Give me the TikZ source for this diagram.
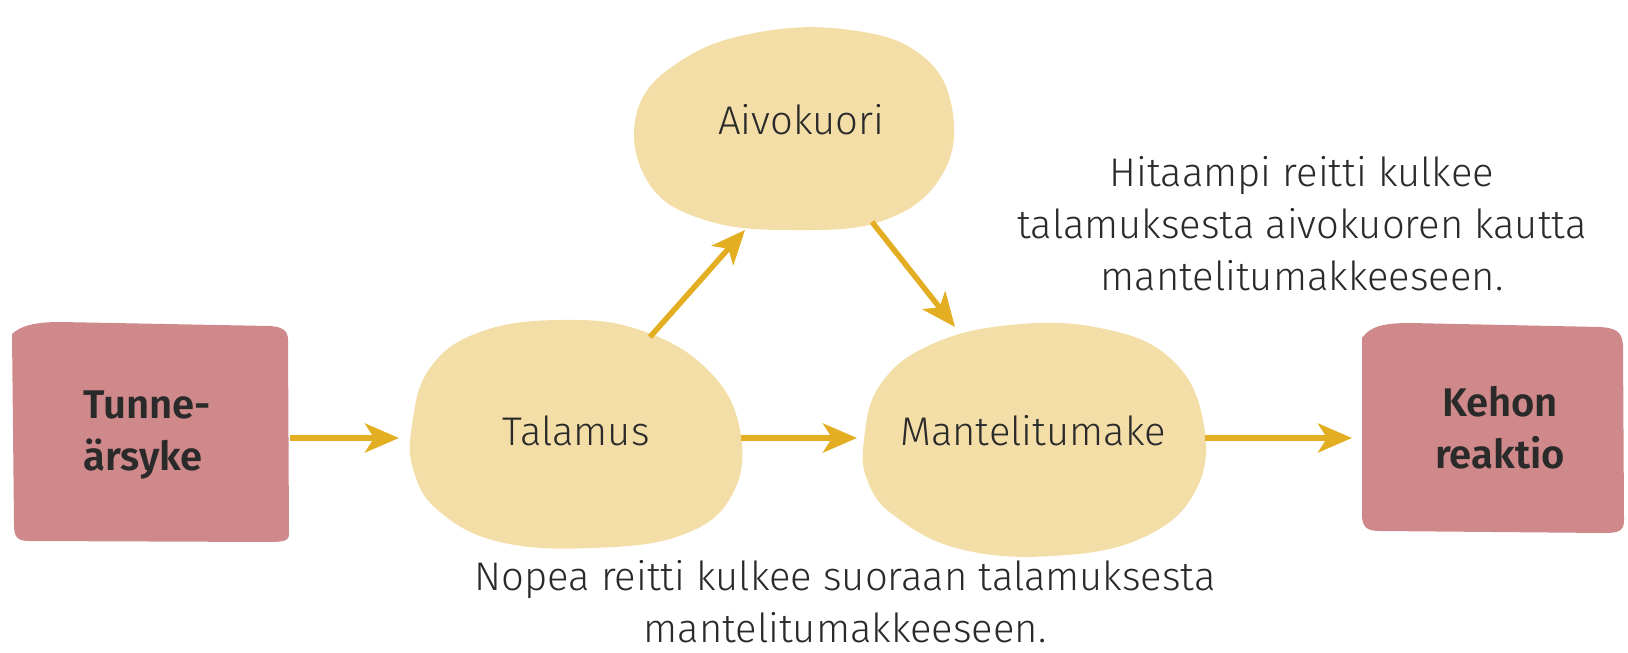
\documentclass[tikz,border=0pt]{standalone}
\usepackage{fontspec}
\setmainfont{Fira Sans}[UprightFont={* Light},BoldFont={* SemiBold}]
\usetikzlibrary{arrows.meta,shapes.geometric}
\definecolor{boxc}{HTML}{D0898A}
\definecolor{blobc}{HTML}{F4DEA8}
\definecolor{arrc}{HTML}{E3AE22}
\definecolor{txtc}{HTML}{2A2A2A}
\tikzset{
  flow/.style={draw=arrc,line width=5.5pt,-{Stealth[length=34pt,width=29pt,inset=9pt]}},
  boxtext/.style={text=txtc,font=\fontsize{40}{52}\selectfont\bfseries,inner sep=0pt},
  blobtext/.style={text=txtc,font=\fontsize{40}{54}\selectfont,inner sep=0pt},
  note/.style={text=txtc,font=\fontsize{40}{52}\selectfont,align=center,inner sep=0pt}
}
\begin{document}
\begin{tikzpicture}[x=1pt,y=-1pt]
\useasboundingbox (0,0) rectangle (1628,653);
% boxes
\fill[boxc] (12,334) .. controls (20,326) and (35,322) .. (60,322) -- (270,326) .. controls (282,327) and (288,330) .. (288,340) -- (289,535) .. controls (289,540) and (285,542) .. (270,542) -- (30,541) .. controls (18,541) and (14,538) .. (14,525) -- cycle;
\fill[boxc] (1362,338) .. controls (1370,326) and (1385,323) .. (1410,323) -- (1600,327) .. controls (1615,328) and (1622,331) .. (1623,345) -- (1624,520) .. controls (1624,530) and (1620,533) .. (1605,533) -- (1380,531) .. controls (1368,531) and (1362,528) .. (1362,515) -- cycle;
% blobs
\fill[blobc] plot[smooth cycle,tension=0.7] coordinates {(637,112) (682,60) (760,32) (850,30) (920,54) (952,108) (942,175) (885,220) (795,230) (705,220) (648,182)};
\fill[blobc] plot[smooth cycle,tension=0.7] coordinates {(412,425) (430,368) (480,332) (560,320) (640,330) (708,370) (740,430) (732,495) (682,535) (592,548) (500,542) (440,512) (414,472)};
\fill[blobc] plot[smooth cycle,tension=0.7] coordinates {(864,440) (880,385) (930,345) (1010,325) (1100,328) (1170,358) (1203,420) (1196,490) (1142,538) (1052,556) (960,549) (896,517) (868,482)};
% text nodes
\node[boxtext,align=left] (stim) at (147,435) {Tunne-\\ärsyke};
\node[boxtext,align=center] (resp) at (1500,428) {Kehon\\reaktio};
\node[blobtext] (cortex) at (801,120) {Aivokuori};
\node[blobtext] (thal) at (576,431) {Talamus};
\node[blobtext] (amyg) at (1033,431) {Mantelitumake};
\node[note] (slow) at (1302,224) {Hitaampi reitti kulkee\\talamuksesta aivokuoren kautta\\mantelitumakkeeseen.};
\node[note] (fast) at (845,602) {Nopea reitti kulkee suoraan talamuksesta\\mantelitumakkeeseen.};
% connector endpoints
\coordinate (s1) at (290,438); \coordinate (e1) at (399,438);
\coordinate (s2) at (741,438); \coordinate (e2) at (857,438);
\coordinate (s3) at (1205,438); \coordinate (e3) at (1352,438);
\coordinate (s4) at (650,337); \coordinate (e4) at (745,230);
\coordinate (s5) at (872,222); \coordinate (e5) at (955,327);
\draw[flow] (s1) -- (e1);
\draw[flow] (s2) -- (e2);
\draw[flow] (s3) -- (e3);
\draw[flow] (s4) -- (e4);
\draw[flow] (s5) -- (e5);
\end{tikzpicture}
\end{document}
